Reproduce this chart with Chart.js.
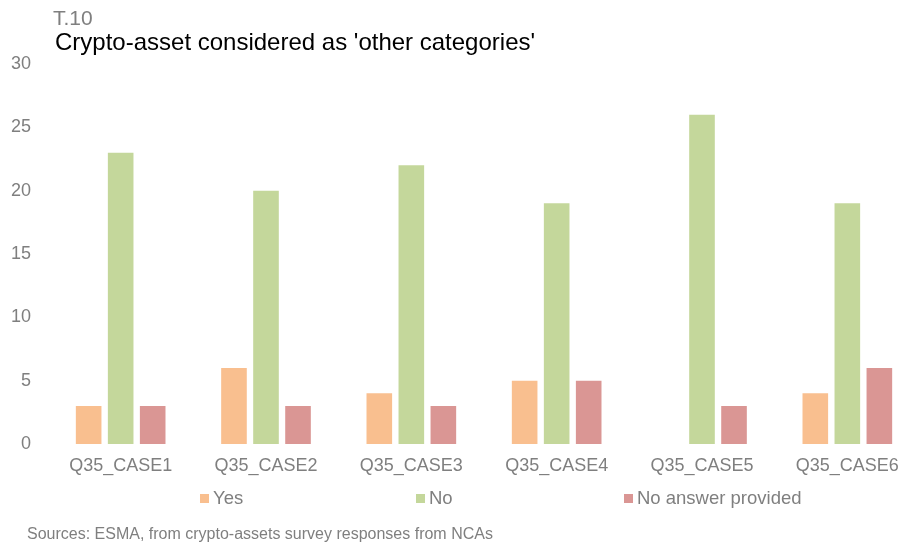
<!DOCTYPE html>
<html>
<head>
<meta charset="utf-8">
<script src="https://cdn.jsdelivr.net/npm/chart.js@4"></script>
<style>
  html, body { margin: 0; padding: 0; overflow: hidden; background: #fff; }
  #wrap { position: absolute; left: 0; top: 0; width: 920px; height: 544px; }
</style>
</head>
<body>
<div id="wrap"><canvas id="myChart"></canvas></div>
<script>
let categories = ['Q35_CASE1', 'Q35_CASE2', 'Q35_CASE3', 'Q35_CASE4', 'Q35_CASE5', 'Q35_CASE6'];
let yesValues = [3, 6, 4, 5, 0, 4];
let noValues = [23, 20, 22, 19, 26, 19];
let noAnswerValues = [3, 3, 3, 5, 3, 6];
let seriesNames = ['Yes', 'No', 'No answer provided'];
let seriesColors = ['#F9BF8F', '#C4D79B', '#DA9694'];

let chartTag = 'T.10';
let chartTitle = "Crypto-asset considered as 'other categories'";
let sourceText = 'Sources: ESMA, from crypto-assets survey responses from NCAs';

const font = "'Liberation Sans', Arial, sans-serif";
const grey = '#7F7F7F';

// titles, legend and source are drawn by hand to match the spread-out layout
const extras = {
  id: 'extras',
  afterDraw(chart) {
    const ctx = chart.ctx;
    ctx.save();
    ctx.textBaseline = 'alphabetic';
    ctx.textAlign = 'left';
    ctx.fillStyle = grey;
    ctx.font = `21px ${font}`;
    ctx.fillText(chartTag, 53, 25);
    ctx.fillStyle = '#000';
    ctx.font = `24px ${font}`;
    ctx.fillText(chartTitle, 55, 50);

    // legend
    const legendX = [200, 416, 624];
    ctx.font = `18.5px ${font}`;
    ctx.textBaseline = 'middle';
    chart.data.datasets.forEach((ds, i) => {
      ctx.fillStyle = ds.backgroundColor;
      ctx.fillRect(legendX[i], 494, 9, 9);
      ctx.fillStyle = grey;
      ctx.fillText(ds.label, legendX[i] + 13, 499);
    });

    ctx.font = `16px ${font}`;
    ctx.fillText(sourceText, 27, 535);
    ctx.restore();
  }
};

const ctx = document.getElementById('myChart').getContext('2d');
new Chart(ctx, {
  type: 'bar',
  data: {
    labels: categories,
    datasets: [yesValues, noValues, noAnswerValues].map((vals, i) => ({
      label: seriesNames[i],
      data: vals,
      backgroundColor: seriesColors[i],
      categoryPercentage: 0.661,
      barPercentage: 0.8
    }))
  },
  options: {
    responsive: true,
    maintainAspectRatio: false,
    animation: false,
    layout: { padding: { top: 64, left: 0, right: 0, bottom: 0 } },
    plugins: {
      legend: { display: false },
      tooltip: { enabled: false }
    },
    scales: {
      x: {
        grid: { display: false, drawTicks: false },
        border: { display: false },
        ticks: { color: grey, font: { family: font, size: 18 }, padding: 11, maxRotation: 0 },
        afterFit(scale) { scale.height = 100; }
      },
      y: {
        min: 0,
        max: 30,
        grid: { display: false, drawTicks: false },
        border: { display: false },
        ticks: { stepSize: 5, color: grey, font: { family: font, size: 18 }, padding: 17 },
        afterFit(scale) { scale.width = 48; }
      }
    }
  },
  plugins: [extras]
});
</script>
</body>
</html>
